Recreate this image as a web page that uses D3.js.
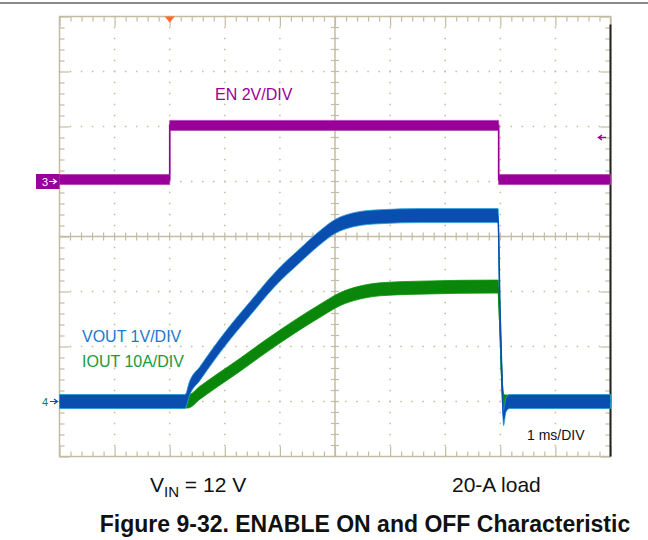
<!DOCTYPE html>
<html><head><meta charset="utf-8">
<script src="https://cdn.jsdelivr.net/npm/d3@7"></script>
<style>body{margin:0;background:#fff}svg{display:block}</style>
</head><body>
<svg id="c" width="648" height="540"></svg>
<script>
// ---- data (read from the scope capture) ----
const timeDivs = [0,1,2,3,4,5,6,7,8,9,10];          // ms, 1 ms/DIV
const vertDivs = [0,1,2,3,4,5,6,7,8];
const enTime  = [0, 2.0, 2.0, 7.97, 7.97, 10];
const enVolts = [0.07, 0.07, 2.04, 2.04, 0.07, 0.07];
const voutTime  = [0, 2.28, 2.36, 2.55, 2.79, 3.0, 3.46, 3.91, 4.36, 4.73, 5.0, 5.36, 5.82, 6.54, 7.96, 7.99, 8.03, 8.06, 8.10, 8.17, 10];
const voutVolts = [0, 0, 0.24, 0.51, 0.85, 1.13, 1.69, 2.22, 2.65, 2.98, 3.18, 3.31, 3.36, 3.38, 3.38, 1.84, 0.38, -0.31, -0.07, 0, 0];
const ioutTime = [0, 2.33, 2.55, 2.86, 3.28, 3.64, 4.0, 4.36, 4.73, 5.09, 5.45, 5.82, 6.54, 7.96, 7.99, 8.03, 8.06, 8.10, 10];
const ioutAmps = [0, 0, 1.6, 3.8, 6.7, 9.3, 11.8, 14.2, 16.5, 18.6, 19.8, 20.4, 20.7, 20.9, 14.7, 3.8, 0.2, 0, 0];
const labels = {en:"EN 2V/DIV", vout:"VOUT 1V/DIV", iout:"IOUT 10A/DIV", time:"1 ms/DIV"};

// ---- layout ----
const L = 59.5, R = 610.5, T = 16.5, B = 456.5;
const svg = d3.select("#c");
const x = d3.scaleLinear([0,10],[L,R]);
const yd = d3.scaleLinear([0,8],[B,T]);
const yEn = d3.scaleLinear([-10,6],[B,T]);   // ch3 ground at div 5, 2 V/div
const yV  = d3.scaleLinear([-1,7],[B,T]);    // ch4 ground at div 1, 1 V/div
const yI  = d3.scaleLinear([-10,70],[B,T]);  // 10 A/div
const grid = "#c4bca2";

// top page rule
svg.append("rect").attr("x",0).attr("y",2).attr("width",648).attr("height",2).attr("fill","#8a8a8a");

const g = svg.append("g");
// dotted grid
const minorT = d3.range(0, 10.001, 0.2);
const minorV = d3.range(0, 8.001, 0.2);
timeDivs.filter(d=>d>0&&d<10&&d!==5).forEach(d=>{
  minorV.forEach(v=>g.append("rect").attr("x",x(d)-0.75).attr("y",yd(v)-0.75).attr("width",1.5).attr("height",1.5).attr("fill",grid));
});
vertDivs.filter(d=>d>0&&d<8&&d!==4).forEach(d=>{
  minorT.forEach(t=>g.append("rect").attr("x",x(t)-0.75).attr("y",yd(d)-0.75).attr("width",1.5).attr("height",1.5).attr("fill",grid));
});
// center crosshair
g.append("line").attr("x1",x(5)).attr("x2",x(5)).attr("y1",T).attr("y2",B).attr("stroke",grid).attr("stroke-width",1.5);
g.append("line").attr("x1",L).attr("x2",R).attr("y1",yd(4)).attr("y2",yd(4)).attr("stroke",grid).attr("stroke-width",1.5);
minorV.forEach(v=>g.append("line").attr("x1",x(5)-4).attr("x2",x(5)+4).attr("y1",yd(v)).attr("y2",yd(v)).attr("stroke",grid).attr("stroke-width",1.2));
minorT.forEach(t=>g.append("line").attr("x1",x(t)).attr("x2",x(t)).attr("y1",yd(4)-4).attr("y2",yd(4)+4).attr("stroke",grid).attr("stroke-width",1.2));
// border ticks via axes
const isMajor = (t)=>Math.abs(t-Math.round(t))<1e-6;
const axTop = d3.axisBottom(x).tickValues(minorT).tickSize(5).tickFormat("");
const axBot = d3.axisTop(x).tickValues(minorT).tickSize(5).tickFormat("");
const axLeft = d3.axisRight(yd).tickValues(minorV).tickSize(5).tickFormat("");
const axRight = d3.axisLeft(yd).tickValues(minorV).tickSize(5).tickFormat("");
[[axTop,`translate(0,${T})`],[axBot,`translate(0,${B})`],[axLeft,`translate(${L},0)`],[axRight,`translate(${R},0)`]].forEach(([ax,tr])=>{
  const a = g.append("g").attr("transform",tr).call(ax);
  a.select(".domain").remove();
  a.selectAll("line").attr("stroke",grid).attr("stroke-width",1.2);
});
g.selectAll("g.tick").each(function(d){
  if (isMajor(d)) {
    const ln = d3.select(this).select("line");
    ["x2","y2"].forEach(k=>{const v=+ln.attr(k); if(v) ln.attr(k, v>0?10:-10);});
  }
});
// border
g.append("rect").attr("x",L).attr("y",T).attr("width",R-L).attr("height",B-T).attr("fill","none").attr("stroke",grid).attr("stroke-width",1.5);
g.append("line").attr("x1",R).attr("x2",R).attr("y1",T+8).attr("y2",B).attr("stroke","#222").attr("stroke-width",2);

// ---- traces ----
function trace(ts, vs, y, color, hw, edge, curve){
  const pts = ts.map((t,i)=>[t, vs[i]]);
  const area = d3.area().curve(curve).x(d=>x(d[0])).y0(d=>y(d[1])+hw).y1(d=>y(d[1])-hw);
  const line = d3.line().curve(curve).x(d=>x(d[0])).y(d=>y(d[1]));
  svg.append("path").attr("d",area(pts)).attr("fill",color).attr("stroke",edge).attr("stroke-width",0.8);
  svg.append("path").attr("d",line(pts)).attr("fill","none").attr("stroke",color).attr("stroke-width",1.6);
}
trace(enTime, enVolts, yEn, "#990099", 5, "#b040b0", d3.curveLinear);
trace(ioutTime, ioutAmps, yI, "#0a870a", 6.5, "#0a960a", d3.curveMonotoneX);
trace(voutTime, voutVolts, yV, "#0a4eb0", 7, "#2aa0dc", d3.curveMonotoneX);

// ---- markers ----
svg.append("path").attr("d",`M${x(2)-5},${T} L${x(2)+5},${T} L${x(2)},${T+6} Z`).attr("fill","#ff6a2a");
// ch3 marker
const y3 = yEn(0);
svg.append("rect").attr("x",36).attr("y",y3-7.5).attr("width",L-36).attr("height",15).attr("fill","#990099");
svg.append("text").attr("x",42).attr("y",y3+4.5).attr("fill","#fff").attr("font-family","Liberation Sans, Arial, sans-serif").attr("font-size",11).text("3");
svg.append("path").attr("d",`M49,${y3} L56,${y3} M53,${y3-2.5} L56.5,${y3} L53,${y3+2.5}`).attr("stroke","#fff").attr("stroke-width",1.2).attr("fill","none");
// ch4 marker
const y4 = yV(0);
svg.append("text").attr("x",42).attr("y",y4+4.5).attr("fill","#0a7a6a").attr("font-family","Liberation Sans, Arial, sans-serif").attr("font-size",11).text("4");
svg.append("path").attr("d",`M50,${y4} L57,${y4} M54,${y4-2.5} L57.5,${y4} L54,${y4+2.5}`).attr("stroke","#0a4eb0").attr("stroke-width",1.2).attr("fill","none");
// right-side arrow marker
const ya = yEn(1.6);
svg.append("path").attr("d",`M606,${ya} L599,${ya} M602,${ya-2.5} L598.5,${ya} L602,${ya+2.5}`).attr("stroke","#990099").attr("stroke-width",1.4).attr("fill","none");

// ---- labels ----
const ff = "Liberation Sans, Arial, Helvetica, sans-serif";
svg.append("text").attr("x",215).attr("y",100).attr("fill","#990099").attr("font-family",ff).attr("font-size",16).text(labels.en);
svg.append("text").attr("x",82).attr("y",342).attr("fill","#1a78cc").attr("font-family",ff).attr("font-size",16).text(labels.vout);
svg.append("text").attr("x",82).attr("y",367).attr("fill","#1a9a3a").attr("font-family",ff).attr("font-size",16).text(labels.iout);
svg.append("text").attr("x",527).attr("y",440).attr("fill","#111").attr("font-family",ff).attr("font-size",14).text(labels.time);

const vin = svg.append("text").attr("x",150).attr("y",492).attr("fill","#111").attr("font-family",ff).attr("font-size",21);
vin.append("tspan").text("V");
vin.append("tspan").attr("font-size",15).attr("dy",5).text("IN");
vin.append("tspan").attr("dy",-5).text(" = 12 V");
svg.append("text").attr("x",452).attr("y",492).attr("fill","#111").attr("font-family",ff).attr("font-size",21).text("20-A load");
svg.append("text").attr("x",365).attr("y",532).attr("text-anchor","middle").attr("fill","#111").attr("font-family",ff).attr("font-weight","bold").attr("font-size",23).text("Figure 9-32. ENABLE ON and OFF Characteristic");
</script>
</body></html>
